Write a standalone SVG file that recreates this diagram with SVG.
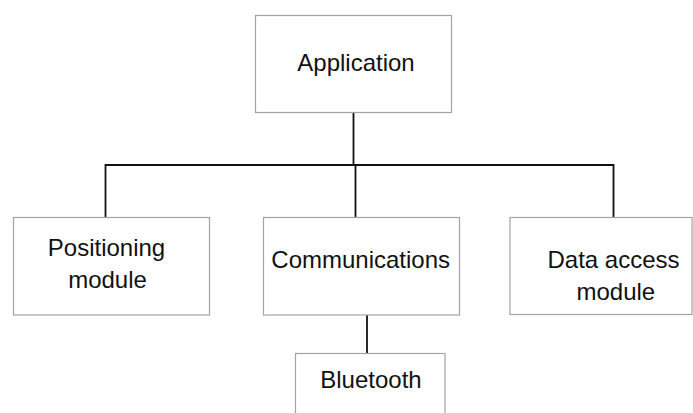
<svg xmlns="http://www.w3.org/2000/svg" width="693" height="413" viewBox="0 0 693 413">
<style>
.box{fill:#fff;stroke:#a3a3a3;stroke-width:1.2}
.lbl{font-family:"Liberation Sans",Arial,sans-serif;font-size:24px;fill:#111;text-anchor:middle}
.con{fill:none;stroke:#111;stroke-width:1.8}
</style>
<rect width="693" height="413" fill="#fff"/>
<g id="connectors">
<path class="con" d="M353.5 112.5V165M105.5 217.5V165H613.5V217.5M355.5 165V217.5"/>
<path class="con" d="M367 315V353.5"/>
</g>
<g id="application">
<rect class="box" x="255.5" y="15.5" width="196" height="97"/>
<text class="lbl" x="356" y="71">Application</text>
</g>
<g id="positioning">
<rect class="box" x="13.5" y="217.5" width="196" height="97.5"/>
<text class="lbl" x="106.5" y="256">Positioning</text>
<text class="lbl" x="107.5" y="288">module</text>
</g>
<g id="communications">
<rect class="box" x="263.5" y="217.5" width="196" height="97.5"/>
<text class="lbl" x="360.7" y="268">Communications</text>
</g>
<g id="dataaccess">
<rect class="box" x="510" y="217.5" width="182" height="97"/>
<text class="lbl" x="613.5" y="268">Data access</text>
<text class="lbl" x="615.8" y="300">module</text>
</g>
<g id="bluetooth">
<rect class="box" x="295.5" y="353.5" width="149.5" height="70"/>
<text class="lbl" x="371" y="388">Bluetooth</text>
</g>
</svg>
